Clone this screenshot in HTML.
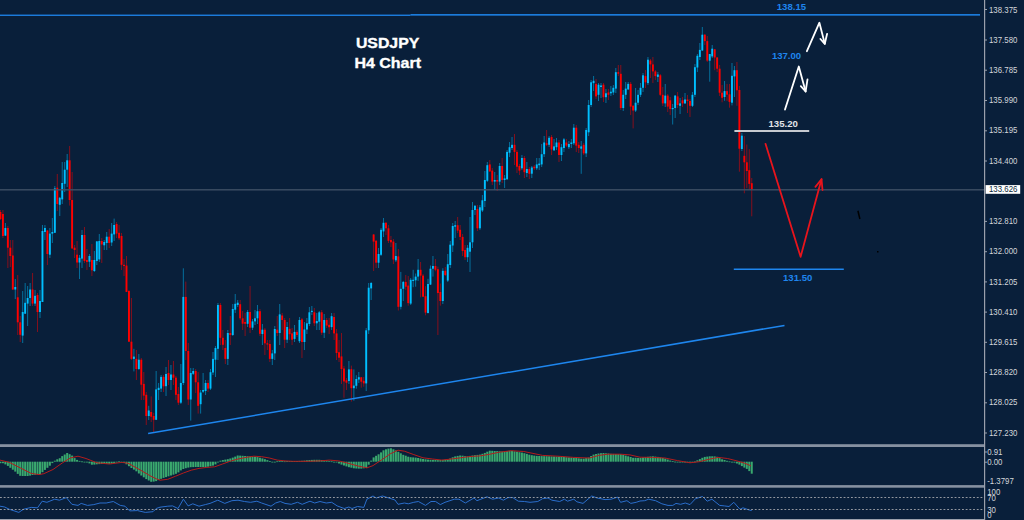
<!DOCTYPE html>
<html><head><meta charset="utf-8"><title>USDJPY H4 Chart</title>
<style>
html,body{margin:0;padding:0;background:#091f3a;width:1024px;height:520px;overflow:hidden;}
svg{display:block;position:absolute;left:0;top:0;}
text{font-family:"Liberation Sans",sans-serif;}
</style></head><body>
<svg width="1024" height="520" viewBox="0 0 1024 520">
<rect x="0" y="0" width="1024" height="520" fill="#091f3a"/>
<g opacity="0.5"><rect x="-0.05" y="210.0" width="1" height="10.0" fill="#ff0000"/><rect x="2.42" y="210.0" width="1" height="28.0" fill="#ff0000"/><rect x="4.89" y="223.0" width="1" height="13.0" fill="#00bfff"/><rect x="7.36" y="226.0" width="1" height="42.0" fill="#ff0000"/><rect x="9.83" y="240.0" width="1" height="27.0" fill="#ff0000"/><rect x="12.30" y="240.0" width="1" height="50.0" fill="#ff0000"/><rect x="14.77" y="279.0" width="1" height="20.0" fill="#00bfff"/><rect x="17.24" y="275.0" width="1" height="60.0" fill="#ff0000"/><rect x="19.72" y="316.0" width="1" height="26.0" fill="#ff0000"/><rect x="22.19" y="291.0" width="1" height="52.0" fill="#00bfff"/><rect x="24.66" y="283.0" width="1" height="31.0" fill="#00bfff"/><rect x="27.13" y="286.0" width="1" height="40.0" fill="#00bfff"/><rect x="29.60" y="283.0" width="1" height="23.0" fill="#00bfff"/><rect x="32.07" y="273.0" width="1" height="33.0" fill="#ff0000"/><rect x="34.54" y="290.0" width="1" height="16.0" fill="#00bfff"/><rect x="37.02" y="293.0" width="1" height="39.0" fill="#ff0000"/><rect x="39.49" y="290.0" width="1" height="28.0" fill="#00bfff"/><rect x="41.96" y="225.0" width="1" height="77.0" fill="#00bfff"/><rect x="44.43" y="225.0" width="1" height="15.0" fill="#00bfff"/><rect x="46.90" y="230.0" width="1" height="35.0" fill="#ff0000"/><rect x="49.37" y="228.0" width="1" height="30.0" fill="#00bfff"/><rect x="51.84" y="218.0" width="1" height="25.0" fill="#00bfff"/><rect x="54.32" y="186.0" width="1" height="47.0" fill="#00bfff"/><rect x="56.79" y="174.0" width="1" height="37.0" fill="#ff0000"/><rect x="59.26" y="197.0" width="1" height="19.0" fill="#00bfff"/><rect x="61.73" y="162.0" width="1" height="42.0" fill="#00bfff"/><rect x="64.20" y="162.0" width="1" height="30.0" fill="#00bfff"/><rect x="66.67" y="154.0" width="1" height="33.0" fill="#00bfff"/><rect x="69.14" y="146.0" width="1" height="59.6" fill="#ff0000"/><rect x="71.62" y="172.0" width="1" height="77.0" fill="#ff0000"/><rect x="74.09" y="245.0" width="1" height="13.0" fill="#ff0000"/><rect x="76.56" y="241.0" width="1" height="27.0" fill="#ff0000"/><rect x="79.03" y="255.0" width="1" height="24.0" fill="#00bfff"/><rect x="81.50" y="230.0" width="1" height="38.0" fill="#00bfff"/><rect x="83.97" y="227.0" width="1" height="36.0" fill="#ff0000"/><rect x="86.44" y="249.0" width="1" height="21.0" fill="#ff0000"/><rect x="88.92" y="254.0" width="1" height="13.0" fill="#00bfff"/><rect x="91.39" y="244.0" width="1" height="32.0" fill="#ff0000"/><rect x="93.86" y="251.0" width="1" height="21.0" fill="#00bfff"/><rect x="96.33" y="241.0" width="1" height="24.0" fill="#00bfff"/><rect x="98.80" y="234.0" width="1" height="28.0" fill="#00bfff"/><rect x="101.27" y="238.0" width="1" height="25.0" fill="#ff0000"/><rect x="103.74" y="240.0" width="1" height="10.0" fill="#00bfff"/><rect x="106.22" y="232.0" width="1" height="18.0" fill="#00bfff"/><rect x="108.69" y="229.0" width="1" height="19.0" fill="#ff0000"/><rect x="111.16" y="223.0" width="1" height="23.0" fill="#00bfff"/><rect x="113.63" y="218.6" width="1" height="22.4" fill="#00bfff"/><rect x="116.10" y="222.0" width="1" height="16.0" fill="#ff0000"/><rect x="118.57" y="225.0" width="1" height="15.0" fill="#ff0000"/><rect x="121.04" y="233.0" width="1" height="37.0" fill="#ff0000"/><rect x="123.52" y="259.0" width="1" height="17.0" fill="#ff0000"/><rect x="125.99" y="256.0" width="1" height="36.0" fill="#ff0000"/><rect x="128.46" y="290.0" width="1" height="52.0" fill="#ff0000"/><rect x="130.93" y="298.0" width="1" height="62.0" fill="#ff0000"/><rect x="133.40" y="348.8" width="1" height="22.6" fill="#00bfff"/><rect x="135.87" y="350.0" width="1" height="30.0" fill="#ff0000"/><rect x="138.34" y="354.0" width="1" height="16.0" fill="#00bfff"/><rect x="140.81" y="358.0" width="1" height="42.0" fill="#ff0000"/><rect x="143.29" y="372.0" width="1" height="28.0" fill="#ff0000"/><rect x="145.76" y="392.0" width="1" height="33.0" fill="#ff0000"/><rect x="148.23" y="405.8" width="1" height="14.2" fill="#00bfff"/><rect x="150.70" y="396.4" width="1" height="25.6" fill="#ff0000"/><rect x="153.17" y="412.8" width="1" height="19.5" fill="#ff0000"/><rect x="155.64" y="371.0" width="1" height="49.0" fill="#00bfff"/><rect x="158.11" y="383.0" width="1" height="17.0" fill="#00bfff"/><rect x="160.59" y="375.0" width="1" height="17.0" fill="#00bfff"/><rect x="163.06" y="375.0" width="1" height="17.0" fill="#ff0000"/><rect x="165.53" y="367.0" width="1" height="29.0" fill="#00bfff"/><rect x="168.00" y="360.0" width="1" height="25.0" fill="#ff0000"/><rect x="170.47" y="365.0" width="1" height="25.0" fill="#00bfff"/><rect x="172.94" y="361.0" width="1" height="24.0" fill="#ff0000"/><rect x="175.41" y="376.0" width="1" height="24.0" fill="#ff0000"/><rect x="177.89" y="387.0" width="1" height="18.0" fill="#ff0000"/><rect x="180.36" y="364.0" width="1" height="40.0" fill="#00bfff"/><rect x="182.83" y="268.3" width="1" height="116.7" fill="#00bfff"/><rect x="185.30" y="281.6" width="1" height="78.4" fill="#ff0000"/><rect x="187.77" y="343.0" width="1" height="62.0" fill="#ff0000"/><rect x="190.24" y="368.0" width="1" height="52.6" fill="#00bfff"/><rect x="192.71" y="368.0" width="1" height="7.0" fill="#00bfff"/><rect x="195.19" y="369.0" width="1" height="24.0" fill="#ff0000"/><rect x="197.66" y="372.0" width="1" height="41.6" fill="#ff0000"/><rect x="200.13" y="390.0" width="1" height="23.6" fill="#00bfff"/><rect x="202.60" y="373.0" width="1" height="20.0" fill="#00bfff"/><rect x="205.07" y="380.0" width="1" height="15.0" fill="#00bfff"/><rect x="207.54" y="380.0" width="1" height="12.0" fill="#ff0000"/><rect x="210.01" y="369.0" width="1" height="21.0" fill="#00bfff"/><rect x="212.49" y="352.0" width="1" height="23.0" fill="#00bfff"/><rect x="214.96" y="346.0" width="1" height="31.0" fill="#00bfff"/><rect x="217.43" y="303.0" width="1" height="57.0" fill="#00bfff"/><rect x="219.90" y="303.0" width="1" height="42.0" fill="#ff0000"/><rect x="222.37" y="330.0" width="1" height="20.0" fill="#ff0000"/><rect x="224.84" y="340.0" width="1" height="24.0" fill="#ff0000"/><rect x="227.31" y="330.0" width="1" height="35.0" fill="#00bfff"/><rect x="229.79" y="316.0" width="1" height="29.0" fill="#ff0000"/><rect x="232.26" y="304.0" width="1" height="32.0" fill="#00bfff"/><rect x="234.73" y="294.0" width="1" height="19.0" fill="#00bfff"/><rect x="237.20" y="300.0" width="1" height="7.0" fill="#00bfff"/><rect x="239.67" y="300.0" width="1" height="20.0" fill="#ff0000"/><rect x="242.14" y="311.0" width="1" height="19.0" fill="#ff0000"/><rect x="244.61" y="313.0" width="1" height="23.0" fill="#ff0000"/><rect x="247.09" y="310.0" width="1" height="17.0" fill="#00bfff"/><rect x="249.56" y="286.0" width="1" height="47.0" fill="#ff0000"/><rect x="252.03" y="319.0" width="1" height="11.0" fill="#00bfff"/><rect x="254.50" y="310.0" width="1" height="15.0" fill="#00bfff"/><rect x="256.97" y="305.0" width="1" height="19.0" fill="#00bfff"/><rect x="259.44" y="309.0" width="1" height="27.0" fill="#ff0000"/><rect x="261.91" y="324.0" width="1" height="21.0" fill="#00bfff"/><rect x="264.38" y="328.0" width="1" height="27.0" fill="#ff0000"/><rect x="266.86" y="340.0" width="1" height="10.0" fill="#ff0000"/><rect x="269.33" y="340.0" width="1" height="22.0" fill="#ff0000"/><rect x="271.80" y="350.0" width="1" height="15.0" fill="#00bfff"/><rect x="274.27" y="326.0" width="1" height="34.0" fill="#00bfff"/><rect x="276.74" y="316.0" width="1" height="20.0" fill="#ff0000"/><rect x="279.21" y="304.0" width="1" height="41.0" fill="#00bfff"/><rect x="281.68" y="313.0" width="1" height="17.0" fill="#ff0000"/><rect x="284.16" y="318.0" width="1" height="30.0" fill="#ff0000"/><rect x="286.63" y="322.0" width="1" height="21.0" fill="#00bfff"/><rect x="289.10" y="318.0" width="1" height="22.0" fill="#ff0000"/><rect x="291.57" y="328.0" width="1" height="17.0" fill="#ff0000"/><rect x="294.04" y="325.0" width="1" height="17.0" fill="#00bfff"/><rect x="296.51" y="330.0" width="1" height="7.0" fill="#ff0000"/><rect x="298.98" y="317.0" width="1" height="26.0" fill="#00bfff"/><rect x="301.46" y="318.0" width="1" height="40.0" fill="#ff0000"/><rect x="303.93" y="322.0" width="1" height="28.0" fill="#00bfff"/><rect x="306.40" y="318.0" width="1" height="16.0" fill="#00bfff"/><rect x="308.87" y="307.0" width="1" height="19.0" fill="#00bfff"/><rect x="311.34" y="306.0" width="1" height="9.0" fill="#00bfff"/><rect x="313.81" y="308.0" width="1" height="18.0" fill="#ff0000"/><rect x="316.28" y="313.0" width="1" height="17.0" fill="#00bfff"/><rect x="318.76" y="311.0" width="1" height="19.0" fill="#00bfff"/><rect x="321.23" y="310.0" width="1" height="25.0" fill="#ff0000"/><rect x="323.70" y="314.0" width="1" height="24.0" fill="#00bfff"/><rect x="326.17" y="318.0" width="1" height="10.0" fill="#ff0000"/><rect x="328.64" y="318.0" width="1" height="16.0" fill="#ff0000"/><rect x="331.11" y="313.0" width="1" height="17.0" fill="#00bfff"/><rect x="333.58" y="313.0" width="1" height="27.0" fill="#ff0000"/><rect x="336.06" y="329.0" width="1" height="31.0" fill="#ff0000"/><rect x="338.53" y="340.0" width="1" height="22.0" fill="#ff0000"/><rect x="341.00" y="333.0" width="1" height="51.0" fill="#ff0000"/><rect x="343.47" y="366.0" width="1" height="31.8" fill="#ff0000"/><rect x="345.94" y="378.0" width="1" height="12.0" fill="#ff0000"/><rect x="348.41" y="361.0" width="1" height="23.0" fill="#00bfff"/><rect x="350.88" y="365.6" width="1" height="36.0" fill="#ff0000"/><rect x="353.36" y="369.4" width="1" height="31.3" fill="#00bfff"/><rect x="355.83" y="375.2" width="1" height="13.5" fill="#00bfff"/><rect x="358.30" y="372.0" width="1" height="11.0" fill="#00bfff"/><rect x="360.77" y="377.0" width="1" height="10.7" fill="#ff0000"/><rect x="363.24" y="377.0" width="1" height="9.7" fill="#ff0000"/><rect x="365.71" y="328.0" width="1" height="63.0" fill="#00bfff"/><rect x="368.18" y="283.0" width="1" height="51.0" fill="#00bfff"/><rect x="370.65" y="282.0" width="1" height="18.0" fill="#00bfff"/><rect x="373.13" y="234.0" width="1" height="37.0" fill="#ff0000"/><rect x="375.60" y="240.0" width="1" height="28.0" fill="#ff0000"/><rect x="378.07" y="248.0" width="1" height="20.0" fill="#00bfff"/><rect x="380.54" y="228.0" width="1" height="28.0" fill="#00bfff"/><rect x="383.01" y="218.0" width="1" height="19.0" fill="#00bfff"/><rect x="385.48" y="222.0" width="1" height="13.0" fill="#ff0000"/><rect x="387.95" y="225.0" width="1" height="18.0" fill="#ff0000"/><rect x="390.43" y="236.0" width="1" height="11.0" fill="#ff0000"/><rect x="392.90" y="239.0" width="1" height="25.0" fill="#ff0000"/><rect x="395.37" y="243.0" width="1" height="19.0" fill="#00bfff"/><rect x="397.84" y="249.0" width="1" height="61.5" fill="#ff0000"/><rect x="400.31" y="271.9" width="1" height="37.5" fill="#00bfff"/><rect x="402.78" y="280.9" width="1" height="20.1" fill="#00bfff"/><rect x="405.25" y="275.0" width="1" height="14.9" fill="#ff0000"/><rect x="407.73" y="276.0" width="1" height="29.7" fill="#ff0000"/><rect x="410.20" y="278.0" width="1" height="27.0" fill="#00bfff"/><rect x="412.67" y="269.8" width="1" height="17.4" fill="#00bfff"/><rect x="415.14" y="273.5" width="1" height="13.2" fill="#00bfff"/><rect x="417.61" y="259.0" width="1" height="21.9" fill="#00bfff"/><rect x="420.08" y="262.0" width="1" height="35.3" fill="#ff0000"/><rect x="422.55" y="274.0" width="1" height="22.7" fill="#ff0000"/><rect x="425.03" y="286.2" width="1" height="29.1" fill="#ff0000"/><rect x="427.50" y="278.8" width="1" height="34.3" fill="#00bfff"/><rect x="429.97" y="265.5" width="1" height="19.5" fill="#00bfff"/><rect x="432.44" y="256.0" width="1" height="20.6" fill="#00bfff"/><rect x="434.91" y="259.0" width="1" height="12.3" fill="#ff0000"/><rect x="437.38" y="266.6" width="1" height="68.4" fill="#ff0000"/><rect x="439.85" y="283.5" width="1" height="22.2" fill="#ff0000"/><rect x="442.33" y="268.2" width="1" height="35.8" fill="#00bfff"/><rect x="444.80" y="267.0" width="1" height="9.0" fill="#ff0000"/><rect x="447.27" y="254.0" width="1" height="28.0" fill="#00bfff"/><rect x="449.74" y="241.0" width="1" height="27.0" fill="#00bfff"/><rect x="452.21" y="223.0" width="1" height="29.0" fill="#00bfff"/><rect x="454.68" y="221.0" width="1" height="17.0" fill="#00bfff"/><rect x="457.15" y="217.0" width="1" height="16.0" fill="#ff0000"/><rect x="459.63" y="225.0" width="1" height="15.0" fill="#ff0000"/><rect x="462.10" y="234.0" width="1" height="22.0" fill="#ff0000"/><rect x="464.57" y="245.0" width="1" height="15.0" fill="#ff0000"/><rect x="467.04" y="245.0" width="1" height="17.0" fill="#00bfff"/><rect x="469.51" y="217.0" width="1" height="55.0" fill="#00bfff"/><rect x="471.98" y="202.0" width="1" height="46.0" fill="#00bfff"/><rect x="474.45" y="205.0" width="1" height="10.0" fill="#00bfff"/><rect x="476.93" y="205.0" width="1" height="26.0" fill="#ff0000"/><rect x="479.40" y="205.0" width="1" height="25.0" fill="#00bfff"/><rect x="481.87" y="195.0" width="1" height="17.0" fill="#00bfff"/><rect x="484.34" y="171.0" width="1" height="36.0" fill="#00bfff"/><rect x="486.81" y="162.0" width="1" height="20.0" fill="#00bfff"/><rect x="489.28" y="160.0" width="1" height="12.0" fill="#ff0000"/><rect x="491.75" y="168.0" width="1" height="17.0" fill="#ff0000"/><rect x="494.23" y="172.0" width="1" height="18.0" fill="#00bfff"/><rect x="496.70" y="175.0" width="1" height="16.0" fill="#ff0000"/><rect x="499.17" y="163.0" width="1" height="22.0" fill="#00bfff"/><rect x="501.64" y="158.0" width="1" height="25.0" fill="#ff0000"/><rect x="504.11" y="175.0" width="1" height="13.0" fill="#00bfff"/><rect x="506.58" y="150.0" width="1" height="30.0" fill="#00bfff"/><rect x="509.05" y="142.0" width="1" height="15.0" fill="#00bfff"/><rect x="511.52" y="137.0" width="1" height="13.0" fill="#00bfff"/><rect x="514.00" y="134.0" width="1" height="31.0" fill="#ff0000"/><rect x="516.47" y="150.0" width="1" height="23.0" fill="#ff0000"/><rect x="518.94" y="164.0" width="1" height="11.0" fill="#ff0000"/><rect x="521.41" y="155.0" width="1" height="15.0" fill="#00bfff"/><rect x="523.88" y="156.0" width="1" height="22.0" fill="#ff0000"/><rect x="526.35" y="162.0" width="1" height="15.0" fill="#00bfff"/><rect x="528.82" y="167.0" width="1" height="12.0" fill="#ff0000"/><rect x="531.30" y="166.0" width="1" height="12.0" fill="#00bfff"/><rect x="533.77" y="165.0" width="1" height="5.0" fill="#ff0000"/><rect x="536.24" y="158.0" width="1" height="12.0" fill="#00bfff"/><rect x="538.71" y="158.0" width="1" height="12.0" fill="#00bfff"/><rect x="541.18" y="144.0" width="1" height="23.0" fill="#00bfff"/><rect x="543.65" y="136.0" width="1" height="21.0" fill="#00bfff"/><rect x="546.12" y="130.0" width="1" height="16.0" fill="#ff0000"/><rect x="548.60" y="136.0" width="1" height="11.0" fill="#00bfff"/><rect x="551.07" y="135.0" width="1" height="20.0" fill="#ff0000"/><rect x="553.54" y="139.0" width="1" height="12.0" fill="#00bfff"/><rect x="556.01" y="138.0" width="1" height="12.0" fill="#00bfff"/><rect x="558.48" y="140.0" width="1" height="22.0" fill="#ff0000"/><rect x="560.95" y="144.0" width="1" height="17.0" fill="#00bfff"/><rect x="563.42" y="138.0" width="1" height="14.0" fill="#00bfff"/><rect x="565.90" y="139.0" width="1" height="8.0" fill="#ff0000"/><rect x="568.37" y="141.0" width="1" height="8.0" fill="#00bfff"/><rect x="570.84" y="139.0" width="1" height="9.0" fill="#00bfff"/><rect x="573.31" y="124.0" width="1" height="21.0" fill="#00bfff"/><rect x="575.78" y="125.0" width="1" height="27.0" fill="#ff0000"/><rect x="578.25" y="142.0" width="1" height="11.0" fill="#ff0000"/><rect x="580.72" y="141.0" width="1" height="32.8" fill="#00bfff"/><rect x="583.20" y="143.0" width="1" height="12.0" fill="#ff0000"/><rect x="585.67" y="128.0" width="1" height="29.0" fill="#00bfff"/><rect x="588.14" y="100.0" width="1" height="36.0" fill="#00bfff"/><rect x="590.61" y="80.0" width="1" height="27.0" fill="#00bfff"/><rect x="593.08" y="76.0" width="1" height="15.0" fill="#00bfff"/><rect x="595.55" y="79.0" width="1" height="20.0" fill="#ff0000"/><rect x="598.02" y="83.0" width="1" height="18.0" fill="#00bfff"/><rect x="600.50" y="83.0" width="1" height="15.0" fill="#00bfff"/><rect x="602.97" y="83.0" width="1" height="19.0" fill="#ff0000"/><rect x="605.44" y="89.0" width="1" height="14.0" fill="#00bfff"/><rect x="607.91" y="89.0" width="1" height="11.0" fill="#ff0000"/><rect x="610.38" y="86.0" width="1" height="10.0" fill="#00bfff"/><rect x="612.85" y="85.0" width="1" height="10.0" fill="#00bfff"/><rect x="615.32" y="68.0" width="1" height="25.0" fill="#00bfff"/><rect x="617.80" y="65.0" width="1" height="11.0" fill="#ff0000"/><rect x="620.27" y="65.0" width="1" height="45.0" fill="#ff0000"/><rect x="622.74" y="90.0" width="1" height="21.0" fill="#00bfff"/><rect x="625.21" y="82.0" width="1" height="17.0" fill="#00bfff"/><rect x="627.68" y="82.0" width="1" height="8.0" fill="#00bfff"/><rect x="630.15" y="82.0" width="1" height="33.0" fill="#ff0000"/><rect x="632.62" y="105.0" width="1" height="23.4" fill="#ff0000"/><rect x="635.09" y="88.0" width="1" height="24.0" fill="#00bfff"/><rect x="637.57" y="90.0" width="1" height="15.0" fill="#00bfff"/><rect x="640.04" y="83.0" width="1" height="14.0" fill="#00bfff"/><rect x="642.51" y="73.0" width="1" height="19.0" fill="#00bfff"/><rect x="644.98" y="70.0" width="1" height="18.0" fill="#ff0000"/><rect x="647.45" y="57.0" width="1" height="28.0" fill="#00bfff"/><rect x="649.92" y="59.0" width="1" height="19.0" fill="#ff0000"/><rect x="652.39" y="57.0" width="1" height="26.0" fill="#ff0000"/><rect x="654.87" y="70.0" width="1" height="10.0" fill="#ff0000"/><rect x="657.34" y="72.0" width="1" height="10.0" fill="#00bfff"/><rect x="659.81" y="74.0" width="1" height="22.0" fill="#ff0000"/><rect x="662.28" y="87.0" width="1" height="19.0" fill="#ff0000"/><rect x="664.75" y="84.0" width="1" height="23.0" fill="#00bfff"/><rect x="667.22" y="94.0" width="1" height="18.0" fill="#ff0000"/><rect x="669.69" y="97.0" width="1" height="18.0" fill="#ff0000"/><rect x="672.17" y="104.0" width="1" height="20.5" fill="#00bfff"/><rect x="674.64" y="95.0" width="1" height="23.0" fill="#00bfff"/><rect x="677.11" y="92.0" width="1" height="16.0" fill="#ff0000"/><rect x="679.58" y="98.0" width="1" height="16.0" fill="#00bfff"/><rect x="682.05" y="97.0" width="1" height="10.0" fill="#ff0000"/><rect x="684.52" y="93.0" width="1" height="11.0" fill="#00bfff"/><rect x="686.99" y="95.0" width="1" height="18.0" fill="#ff0000"/><rect x="689.47" y="99.0" width="1" height="18.0" fill="#ff0000"/><rect x="691.94" y="92.0" width="1" height="15.0" fill="#00bfff"/><rect x="694.41" y="64.0" width="1" height="33.0" fill="#00bfff"/><rect x="696.88" y="54.0" width="1" height="18.0" fill="#00bfff"/><rect x="699.35" y="43.0" width="1" height="17.0" fill="#00bfff"/><rect x="701.82" y="27.0" width="1" height="24.0" fill="#00bfff"/><rect x="704.29" y="34.0" width="1" height="11.0" fill="#ff0000"/><rect x="706.77" y="36.0" width="1" height="26.0" fill="#ff0000"/><rect x="709.24" y="54.0" width="1" height="27.7" fill="#00bfff"/><rect x="711.71" y="45.0" width="1" height="13.0" fill="#00bfff"/><rect x="714.18" y="49.0" width="1" height="21.2" fill="#ff0000"/><rect x="716.65" y="57.0" width="1" height="15.0" fill="#ff0000"/><rect x="719.12" y="65.0" width="1" height="31.0" fill="#ff0000"/><rect x="721.59" y="85.0" width="1" height="17.3" fill="#ff0000"/><rect x="724.07" y="81.0" width="1" height="19.8" fill="#00bfff"/><rect x="726.54" y="84.0" width="1" height="17.0" fill="#ff0000"/><rect x="729.01" y="84.0" width="1" height="23.7" fill="#ff0000"/><rect x="731.48" y="63.0" width="1" height="42.4" fill="#00bfff"/><rect x="733.95" y="66.0" width="1" height="31.0" fill="#00bfff"/><rect x="736.42" y="62.0" width="1" height="43.8" fill="#ff0000"/><rect x="738.89" y="86.0" width="1" height="85.7" fill="#ff0000"/><rect x="741.37" y="132.9" width="1" height="18.1" fill="#00bfff"/><rect x="743.84" y="136.2" width="1" height="57.1" fill="#ff0000"/><rect x="746.31" y="144.5" width="1" height="43.7" fill="#ff0000"/><rect x="748.78" y="149.2" width="1" height="40.8" fill="#ff0000"/><rect x="751.25" y="178.0" width="1" height="38.3" fill="#ff0000"/></g>
<g><rect x="-0.50" y="212.0" width="1.9" height="7.0" fill="#ff0000"/><rect x="1.97" y="214.0" width="1.9" height="22.0" fill="#ff0000"/><rect x="4.44" y="228.0" width="1.9" height="7.6" fill="#00bfff"/><rect x="6.91" y="228.0" width="1.9" height="19.7" fill="#ff0000"/><rect x="9.38" y="247.7" width="1.9" height="8.3" fill="#ff0000"/><rect x="11.85" y="255.5" width="1.9" height="34.0" fill="#ff0000"/><rect x="14.32" y="287.0" width="1.9" height="2.5" fill="#00bfff"/><rect x="16.79" y="297.3" width="1.9" height="25.0" fill="#ff0000"/><rect x="19.27" y="322.3" width="1.9" height="12.5" fill="#ff0000"/><rect x="21.74" y="312.0" width="1.9" height="23.6" fill="#00bfff"/><rect x="24.21" y="302.8" width="1.9" height="10.9" fill="#00bfff"/><rect x="26.68" y="298.0" width="1.9" height="5.6" fill="#00bfff"/><rect x="29.15" y="289.5" width="1.9" height="8.5" fill="#00bfff"/><rect x="31.62" y="289.5" width="1.9" height="14.1" fill="#ff0000"/><rect x="34.09" y="295.8" width="1.9" height="7.8" fill="#00bfff"/><rect x="36.57" y="295.0" width="1.9" height="17.0" fill="#ff0000"/><rect x="39.04" y="301.0" width="1.9" height="11.0" fill="#00bfff"/><rect x="41.51" y="231.0" width="1.9" height="71.0" fill="#00bfff"/><rect x="43.98" y="228.0" width="1.9" height="4.0" fill="#00bfff"/><rect x="46.45" y="230.5" width="1.9" height="23.5" fill="#ff0000"/><rect x="48.92" y="233.6" width="1.9" height="21.1" fill="#00bfff"/><rect x="51.39" y="232.0" width="1.9" height="1.6" fill="#00bfff"/><rect x="53.87" y="188.4" width="1.9" height="44.4" fill="#00bfff"/><rect x="56.34" y="187.7" width="1.9" height="16.3" fill="#ff0000"/><rect x="58.81" y="197.8" width="1.9" height="7.0" fill="#00bfff"/><rect x="61.28" y="183.0" width="1.9" height="16.4" fill="#00bfff"/><rect x="63.75" y="169.7" width="1.9" height="14.1" fill="#00bfff"/><rect x="66.22" y="160.3" width="1.9" height="9.4" fill="#00bfff"/><rect x="68.69" y="160.3" width="1.9" height="39.7" fill="#ff0000"/><rect x="71.17" y="200.0" width="1.9" height="48.4" fill="#ff0000"/><rect x="73.64" y="247.7" width="1.9" height="2.3" fill="#ff0000"/><rect x="76.11" y="254.7" width="1.9" height="7.8" fill="#ff0000"/><rect x="78.58" y="257.8" width="1.9" height="4.7" fill="#00bfff"/><rect x="81.05" y="235.0" width="1.9" height="23.6" fill="#00bfff"/><rect x="83.52" y="235.0" width="1.9" height="26.0" fill="#ff0000"/><rect x="85.99" y="260.0" width="1.9" height="2.0" fill="#ff0000"/><rect x="88.47" y="256.0" width="1.9" height="5.7" fill="#00bfff"/><rect x="90.94" y="260.0" width="1.9" height="10.3" fill="#ff0000"/><rect x="93.41" y="260.0" width="1.9" height="11.0" fill="#00bfff"/><rect x="95.88" y="241.4" width="1.9" height="19.6" fill="#00bfff"/><rect x="98.35" y="241.0" width="1.9" height="18.4" fill="#00bfff"/><rect x="100.82" y="241.0" width="1.9" height="3.5" fill="#ff0000"/><rect x="103.29" y="242.0" width="1.9" height="3.3" fill="#00bfff"/><rect x="105.77" y="236.7" width="1.9" height="6.3" fill="#00bfff"/><rect x="108.24" y="236.7" width="1.9" height="6.3" fill="#ff0000"/><rect x="110.71" y="233.6" width="1.9" height="8.9" fill="#00bfff"/><rect x="113.18" y="225.0" width="1.9" height="9.4" fill="#00bfff"/><rect x="115.65" y="224.0" width="1.9" height="9.6" fill="#ff0000"/><rect x="118.12" y="232.8" width="1.9" height="5.5" fill="#ff0000"/><rect x="120.59" y="236.0" width="1.9" height="28.8" fill="#ff0000"/><rect x="123.06" y="264.8" width="1.9" height="1.2" fill="#ff0000"/><rect x="125.54" y="265.6" width="1.9" height="26.3" fill="#ff0000"/><rect x="128.01" y="291.0" width="1.9" height="50.7" fill="#ff0000"/><rect x="130.48" y="341.7" width="1.9" height="17.2" fill="#ff0000"/><rect x="132.95" y="356.6" width="1.9" height="2.3" fill="#00bfff"/><rect x="135.42" y="358.9" width="1.9" height="10.1" fill="#ff0000"/><rect x="137.89" y="359.7" width="1.9" height="9.3" fill="#00bfff"/><rect x="140.36" y="359.7" width="1.9" height="25.0" fill="#ff0000"/><rect x="142.84" y="383.9" width="1.9" height="11.7" fill="#ff0000"/><rect x="145.31" y="394.8" width="1.9" height="21.2" fill="#ff0000"/><rect x="147.78" y="410.5" width="1.9" height="5.5" fill="#00bfff"/><rect x="150.25" y="412.0" width="1.9" height="4.7" fill="#ff0000"/><rect x="152.72" y="416.0" width="1.9" height="3.8" fill="#ff0000"/><rect x="155.19" y="389.4" width="1.9" height="30.4" fill="#00bfff"/><rect x="157.66" y="387.8" width="1.9" height="2.2" fill="#00bfff"/><rect x="160.14" y="376.9" width="1.9" height="11.7" fill="#00bfff"/><rect x="162.61" y="376.9" width="1.9" height="9.4" fill="#ff0000"/><rect x="165.08" y="374.0" width="1.9" height="12.2" fill="#00bfff"/><rect x="167.55" y="373.0" width="1.9" height="7.0" fill="#ff0000"/><rect x="170.02" y="374.5" width="1.9" height="5.5" fill="#00bfff"/><rect x="172.49" y="374.5" width="1.9" height="3.2" fill="#ff0000"/><rect x="174.96" y="377.7" width="1.9" height="17.1" fill="#ff0000"/><rect x="177.44" y="394.0" width="1.9" height="8.7" fill="#ff0000"/><rect x="179.91" y="383.0" width="1.9" height="19.7" fill="#00bfff"/><rect x="182.38" y="296.9" width="1.9" height="86.1" fill="#00bfff"/><rect x="184.85" y="296.9" width="1.9" height="54.1" fill="#ff0000"/><rect x="187.32" y="351.0" width="1.9" height="48.5" fill="#ff0000"/><rect x="189.79" y="373.0" width="1.9" height="26.5" fill="#00bfff"/><rect x="192.26" y="371.0" width="1.9" height="2.8" fill="#00bfff"/><rect x="194.74" y="371.0" width="1.9" height="11.3" fill="#ff0000"/><rect x="197.21" y="382.3" width="1.9" height="23.5" fill="#ff0000"/><rect x="199.68" y="392.5" width="1.9" height="11.7" fill="#00bfff"/><rect x="202.15" y="390.0" width="1.9" height="1.7" fill="#00bfff"/><rect x="204.62" y="383.0" width="1.9" height="8.0" fill="#00bfff"/><rect x="207.09" y="383.0" width="1.9" height="5.6" fill="#ff0000"/><rect x="209.56" y="372.2" width="1.9" height="16.4" fill="#00bfff"/><rect x="212.04" y="358.9" width="1.9" height="13.6" fill="#00bfff"/><rect x="214.51" y="348.0" width="1.9" height="11.7" fill="#00bfff"/><rect x="216.98" y="305.0" width="1.9" height="43.8" fill="#00bfff"/><rect x="219.45" y="305.0" width="1.9" height="32.8" fill="#ff0000"/><rect x="221.92" y="337.8" width="1.9" height="7.0" fill="#ff0000"/><rect x="224.39" y="348.0" width="1.9" height="10.9" fill="#ff0000"/><rect x="226.86" y="333.0" width="1.9" height="25.9" fill="#00bfff"/><rect x="229.34" y="333.0" width="1.9" height="2.0" fill="#ff0000"/><rect x="231.81" y="309.0" width="1.9" height="26.0" fill="#00bfff"/><rect x="234.28" y="303.8" width="1.9" height="5.9" fill="#00bfff"/><rect x="236.75" y="302.7" width="1.9" height="2.3" fill="#00bfff"/><rect x="239.22" y="304.2" width="1.9" height="14.1" fill="#ff0000"/><rect x="241.69" y="318.3" width="1.9" height="5.4" fill="#ff0000"/><rect x="244.16" y="322.0" width="1.9" height="1.8" fill="#ff0000"/><rect x="246.64" y="312.0" width="1.9" height="11.8" fill="#00bfff"/><rect x="249.11" y="312.0" width="1.9" height="15.7" fill="#ff0000"/><rect x="251.58" y="321.4" width="1.9" height="6.3" fill="#00bfff"/><rect x="254.05" y="318.3" width="1.9" height="3.1" fill="#00bfff"/><rect x="256.52" y="311.2" width="1.9" height="7.1" fill="#00bfff"/><rect x="258.99" y="311.2" width="1.9" height="22.6" fill="#ff0000"/><rect x="261.46" y="329.7" width="1.9" height="4.3" fill="#00bfff"/><rect x="263.93" y="329.7" width="1.9" height="13.6" fill="#ff0000"/><rect x="266.41" y="343.3" width="1.9" height="1.2" fill="#ff0000"/><rect x="268.88" y="344.0" width="1.9" height="14.9" fill="#ff0000"/><rect x="271.35" y="353.4" width="1.9" height="5.5" fill="#00bfff"/><rect x="273.82" y="329.0" width="1.9" height="24.4" fill="#00bfff"/><rect x="276.29" y="329.7" width="1.9" height="3.3" fill="#ff0000"/><rect x="278.76" y="314.4" width="1.9" height="18.6" fill="#00bfff"/><rect x="281.23" y="315.5" width="1.9" height="4.5" fill="#ff0000"/><rect x="283.71" y="320.0" width="1.9" height="19.7" fill="#ff0000"/><rect x="286.18" y="327.0" width="1.9" height="12.7" fill="#00bfff"/><rect x="288.65" y="328.8" width="1.9" height="5.4" fill="#ff0000"/><rect x="291.12" y="333.4" width="1.9" height="6.3" fill="#ff0000"/><rect x="293.59" y="331.9" width="1.9" height="7.0" fill="#00bfff"/><rect x="296.06" y="331.9" width="1.9" height="3.1" fill="#ff0000"/><rect x="298.53" y="320.0" width="1.9" height="21.2" fill="#00bfff"/><rect x="301.01" y="319.4" width="1.9" height="22.6" fill="#ff0000"/><rect x="303.48" y="329.5" width="1.9" height="12.5" fill="#00bfff"/><rect x="305.95" y="323.3" width="1.9" height="6.2" fill="#00bfff"/><rect x="308.42" y="312.3" width="1.9" height="11.7" fill="#00bfff"/><rect x="310.89" y="310.8" width="1.9" height="1.2" fill="#00bfff"/><rect x="313.36" y="312.3" width="1.9" height="11.0" fill="#ff0000"/><rect x="315.83" y="321.0" width="1.9" height="2.3" fill="#00bfff"/><rect x="318.31" y="312.3" width="1.9" height="9.4" fill="#00bfff"/><rect x="320.78" y="312.3" width="1.9" height="20.4" fill="#ff0000"/><rect x="323.25" y="320.0" width="1.9" height="12.7" fill="#00bfff"/><rect x="325.72" y="320.0" width="1.9" height="5.6" fill="#ff0000"/><rect x="328.19" y="324.8" width="1.9" height="2.4" fill="#ff0000"/><rect x="330.66" y="316.2" width="1.9" height="10.9" fill="#00bfff"/><rect x="333.13" y="317.0" width="1.9" height="16.4" fill="#ff0000"/><rect x="335.61" y="333.4" width="1.9" height="19.6" fill="#ff0000"/><rect x="338.08" y="352.2" width="1.9" height="5.5" fill="#ff0000"/><rect x="340.55" y="356.4" width="1.9" height="12.6" fill="#ff0000"/><rect x="343.02" y="368.5" width="1.9" height="12.9" fill="#ff0000"/><rect x="345.49" y="380.3" width="1.9" height="2.4" fill="#ff0000"/><rect x="347.96" y="369.4" width="1.9" height="11.6" fill="#00bfff"/><rect x="350.43" y="369.2" width="1.9" height="19.0" fill="#ff0000"/><rect x="352.91" y="385.6" width="1.9" height="2.6" fill="#00bfff"/><rect x="355.38" y="379.0" width="1.9" height="6.8" fill="#00bfff"/><rect x="357.85" y="377.2" width="1.9" height="2.3" fill="#00bfff"/><rect x="360.32" y="377.3" width="1.9" height="4.4" fill="#ff0000"/><rect x="362.79" y="380.8" width="1.9" height="2.6" fill="#ff0000"/><rect x="365.26" y="330.3" width="1.9" height="53.1" fill="#00bfff"/><rect x="367.73" y="287.7" width="1.9" height="42.6" fill="#00bfff"/><rect x="370.20" y="283.0" width="1.9" height="5.4" fill="#00bfff"/><rect x="372.68" y="234.5" width="1.9" height="7.1" fill="#ff0000"/><rect x="375.15" y="240.8" width="1.9" height="21.9" fill="#ff0000"/><rect x="377.62" y="254.0" width="1.9" height="8.7" fill="#00bfff"/><rect x="380.09" y="229.8" width="1.9" height="25.0" fill="#00bfff"/><rect x="382.56" y="222.8" width="1.9" height="8.6" fill="#00bfff"/><rect x="385.03" y="222.8" width="1.9" height="5.5" fill="#ff0000"/><rect x="387.50" y="228.3" width="1.9" height="12.5" fill="#ff0000"/><rect x="389.98" y="240.0" width="1.9" height="2.3" fill="#ff0000"/><rect x="392.45" y="241.6" width="1.9" height="17.9" fill="#ff0000"/><rect x="394.92" y="256.0" width="1.9" height="4.3" fill="#00bfff"/><rect x="397.39" y="256.4" width="1.9" height="50.4" fill="#ff0000"/><rect x="399.86" y="288.8" width="1.9" height="18.0" fill="#00bfff"/><rect x="402.33" y="281.9" width="1.9" height="6.9" fill="#00bfff"/><rect x="404.80" y="281.9" width="1.9" height="4.8" fill="#ff0000"/><rect x="407.28" y="285.6" width="1.9" height="17.5" fill="#ff0000"/><rect x="409.75" y="279.8" width="1.9" height="23.8" fill="#00bfff"/><rect x="412.22" y="279.8" width="1.9" height="1.2" fill="#00bfff"/><rect x="414.69" y="276.6" width="1.9" height="3.7" fill="#00bfff"/><rect x="417.16" y="269.8" width="1.9" height="6.8" fill="#00bfff"/><rect x="419.63" y="269.8" width="1.9" height="5.8" fill="#ff0000"/><rect x="422.10" y="275.6" width="1.9" height="21.1" fill="#ff0000"/><rect x="424.58" y="296.2" width="1.9" height="16.4" fill="#ff0000"/><rect x="427.05" y="284.0" width="1.9" height="29.1" fill="#00bfff"/><rect x="429.52" y="268.7" width="1.9" height="15.9" fill="#00bfff"/><rect x="431.99" y="266.0" width="1.9" height="2.7" fill="#00bfff"/><rect x="434.46" y="266.0" width="1.9" height="3.8" fill="#ff0000"/><rect x="436.93" y="269.2" width="1.9" height="23.8" fill="#ff0000"/><rect x="439.40" y="292.0" width="1.9" height="9.0" fill="#ff0000"/><rect x="441.88" y="270.8" width="1.9" height="30.2" fill="#00bfff"/><rect x="444.35" y="270.8" width="1.9" height="4.2" fill="#ff0000"/><rect x="446.82" y="264.2" width="1.9" height="16.4" fill="#00bfff"/><rect x="449.29" y="244.7" width="1.9" height="20.3" fill="#00bfff"/><rect x="451.76" y="226.0" width="1.9" height="19.5" fill="#00bfff"/><rect x="454.23" y="225.2" width="1.9" height="1.5" fill="#00bfff"/><rect x="456.70" y="225.2" width="1.9" height="5.4" fill="#ff0000"/><rect x="459.18" y="229.8" width="1.9" height="7.1" fill="#ff0000"/><rect x="461.65" y="236.9" width="1.9" height="14.1" fill="#ff0000"/><rect x="464.12" y="250.0" width="1.9" height="7.2" fill="#ff0000"/><rect x="466.59" y="247.8" width="1.9" height="9.4" fill="#00bfff"/><rect x="469.06" y="242.3" width="1.9" height="9.4" fill="#00bfff"/><rect x="471.53" y="210.0" width="1.9" height="32.3" fill="#00bfff"/><rect x="474.00" y="205.8" width="1.9" height="4.2" fill="#00bfff"/><rect x="476.48" y="209.0" width="1.9" height="19.3" fill="#ff0000"/><rect x="478.95" y="207.3" width="1.9" height="21.0" fill="#00bfff"/><rect x="481.42" y="200.3" width="1.9" height="10.2" fill="#00bfff"/><rect x="483.89" y="180.0" width="1.9" height="21.0" fill="#00bfff"/><rect x="486.36" y="165.2" width="1.9" height="15.6" fill="#00bfff"/><rect x="488.83" y="164.4" width="1.9" height="7.0" fill="#ff0000"/><rect x="491.30" y="170.6" width="1.9" height="11.0" fill="#ff0000"/><rect x="493.78" y="180.0" width="1.9" height="1.6" fill="#00bfff"/><rect x="496.25" y="180.0" width="1.9" height="1.6" fill="#ff0000"/><rect x="498.72" y="166.0" width="1.9" height="15.6" fill="#00bfff"/><rect x="501.19" y="166.0" width="1.9" height="14.0" fill="#ff0000"/><rect x="503.66" y="178.4" width="1.9" height="1.6" fill="#00bfff"/><rect x="506.13" y="151.9" width="1.9" height="27.3" fill="#00bfff"/><rect x="508.60" y="147.2" width="1.9" height="5.5" fill="#00bfff"/><rect x="511.07" y="144.8" width="1.9" height="3.2" fill="#00bfff"/><rect x="513.55" y="144.8" width="1.9" height="7.1" fill="#ff0000"/><rect x="516.02" y="151.9" width="1.9" height="14.8" fill="#ff0000"/><rect x="518.49" y="166.0" width="1.9" height="4.6" fill="#ff0000"/><rect x="520.96" y="158.0" width="1.9" height="10.3" fill="#00bfff"/><rect x="523.43" y="158.0" width="1.9" height="14.2" fill="#ff0000"/><rect x="525.90" y="169.0" width="1.9" height="4.0" fill="#00bfff"/><rect x="528.37" y="169.0" width="1.9" height="4.8" fill="#ff0000"/><rect x="530.85" y="167.5" width="1.9" height="6.2" fill="#00bfff"/><rect x="533.32" y="166.7" width="1.9" height="1.6" fill="#ff0000"/><rect x="535.79" y="164.4" width="1.9" height="3.9" fill="#00bfff"/><rect x="538.26" y="163.6" width="1.9" height="1.6" fill="#00bfff"/><rect x="540.73" y="154.2" width="1.9" height="10.2" fill="#00bfff"/><rect x="543.20" y="142.5" width="1.9" height="11.7" fill="#00bfff"/><rect x="545.67" y="143.3" width="1.9" height="1.5" fill="#ff0000"/><rect x="548.15" y="137.8" width="1.9" height="7.0" fill="#00bfff"/><rect x="550.62" y="137.0" width="1.9" height="12.5" fill="#ff0000"/><rect x="553.09" y="146.4" width="1.9" height="3.9" fill="#00bfff"/><rect x="555.56" y="142.5" width="1.9" height="4.7" fill="#00bfff"/><rect x="558.03" y="142.5" width="1.9" height="12.5" fill="#ff0000"/><rect x="560.50" y="147.2" width="1.9" height="7.8" fill="#00bfff"/><rect x="562.97" y="139.4" width="1.9" height="8.6" fill="#00bfff"/><rect x="565.45" y="142.5" width="1.9" height="3.1" fill="#ff0000"/><rect x="567.92" y="144.0" width="1.9" height="3.2" fill="#00bfff"/><rect x="570.39" y="142.5" width="1.9" height="1.5" fill="#00bfff"/><rect x="572.86" y="127.7" width="1.9" height="15.6" fill="#00bfff"/><rect x="575.33" y="127.7" width="1.9" height="17.9" fill="#ff0000"/><rect x="577.80" y="144.8" width="1.9" height="3.2" fill="#ff0000"/><rect x="580.27" y="146.4" width="1.9" height="2.3" fill="#00bfff"/><rect x="582.75" y="144.8" width="1.9" height="8.6" fill="#ff0000"/><rect x="585.22" y="130.0" width="1.9" height="23.4" fill="#00bfff"/><rect x="587.69" y="105.0" width="1.9" height="27.3" fill="#00bfff"/><rect x="590.16" y="82.3" width="1.9" height="22.7" fill="#00bfff"/><rect x="592.63" y="80.8" width="1.9" height="2.3" fill="#00bfff"/><rect x="595.10" y="83.9" width="1.9" height="12.5" fill="#ff0000"/><rect x="597.57" y="84.7" width="1.9" height="10.1" fill="#00bfff"/><rect x="600.05" y="85.5" width="1.9" height="1.5" fill="#00bfff"/><rect x="602.52" y="84.7" width="1.9" height="12.5" fill="#ff0000"/><rect x="604.99" y="93.3" width="1.9" height="3.9" fill="#00bfff"/><rect x="607.46" y="92.5" width="1.9" height="2.3" fill="#ff0000"/><rect x="609.93" y="91.7" width="1.9" height="1.6" fill="#00bfff"/><rect x="612.40" y="87.8" width="1.9" height="4.7" fill="#00bfff"/><rect x="614.87" y="72.2" width="1.9" height="16.4" fill="#00bfff"/><rect x="617.35" y="72.2" width="1.9" height="1.5" fill="#ff0000"/><rect x="619.82" y="73.8" width="1.9" height="34.2" fill="#ff0000"/><rect x="622.29" y="94.8" width="1.9" height="13.2" fill="#00bfff"/><rect x="624.76" y="88.6" width="1.9" height="6.2" fill="#00bfff"/><rect x="627.23" y="83.9" width="1.9" height="5.5" fill="#00bfff"/><rect x="629.70" y="83.9" width="1.9" height="22.7" fill="#ff0000"/><rect x="632.17" y="105.8" width="1.9" height="4.7" fill="#ff0000"/><rect x="634.64" y="102.7" width="1.9" height="7.8" fill="#00bfff"/><rect x="637.12" y="94.8" width="1.9" height="7.9" fill="#00bfff"/><rect x="639.59" y="87.8" width="1.9" height="7.0" fill="#00bfff"/><rect x="642.06" y="75.3" width="1.9" height="12.5" fill="#00bfff"/><rect x="644.53" y="76.1" width="1.9" height="6.2" fill="#ff0000"/><rect x="647.00" y="59.7" width="1.9" height="23.4" fill="#00bfff"/><rect x="649.47" y="60.5" width="1.9" height="3.9" fill="#ff0000"/><rect x="651.94" y="64.4" width="1.9" height="7.0" fill="#ff0000"/><rect x="654.42" y="71.4" width="1.9" height="4.7" fill="#ff0000"/><rect x="656.89" y="74.5" width="1.9" height="2.4" fill="#00bfff"/><rect x="659.36" y="75.3" width="1.9" height="19.5" fill="#ff0000"/><rect x="661.83" y="94.8" width="1.9" height="8.6" fill="#ff0000"/><rect x="664.30" y="95.6" width="1.9" height="7.8" fill="#00bfff"/><rect x="666.77" y="95.6" width="1.9" height="11.0" fill="#ff0000"/><rect x="669.24" y="100.3" width="1.9" height="8.6" fill="#ff0000"/><rect x="671.72" y="108.0" width="1.9" height="1.2" fill="#00bfff"/><rect x="674.19" y="95.6" width="1.9" height="12.4" fill="#00bfff"/><rect x="676.66" y="96.4" width="1.9" height="8.6" fill="#ff0000"/><rect x="679.13" y="103.4" width="1.9" height="2.4" fill="#00bfff"/><rect x="681.60" y="100.3" width="1.9" height="3.1" fill="#ff0000"/><rect x="684.07" y="99.5" width="1.9" height="3.9" fill="#00bfff"/><rect x="686.54" y="99.5" width="1.9" height="1.5" fill="#ff0000"/><rect x="689.02" y="101.0" width="1.9" height="4.8" fill="#ff0000"/><rect x="691.49" y="94.8" width="1.9" height="11.0" fill="#00bfff"/><rect x="693.96" y="67.2" width="1.9" height="27.6" fill="#00bfff"/><rect x="696.43" y="55.8" width="1.9" height="11.7" fill="#00bfff"/><rect x="698.90" y="49.9" width="1.9" height="7.1" fill="#00bfff"/><rect x="701.37" y="34.7" width="1.9" height="15.8" fill="#00bfff"/><rect x="703.84" y="34.7" width="1.9" height="6.4" fill="#ff0000"/><rect x="706.32" y="41.1" width="1.9" height="19.5" fill="#ff0000"/><rect x="708.79" y="54.0" width="1.9" height="6.7" fill="#00bfff"/><rect x="711.26" y="48.7" width="1.9" height="7.7" fill="#00bfff"/><rect x="713.73" y="49.3" width="1.9" height="8.2" fill="#ff0000"/><rect x="716.20" y="57.5" width="1.9" height="11.2" fill="#ff0000"/><rect x="718.67" y="68.7" width="1.9" height="24.0" fill="#ff0000"/><rect x="721.14" y="92.7" width="1.9" height="5.1" fill="#ff0000"/><rect x="723.62" y="91.1" width="1.9" height="5.9" fill="#00bfff"/><rect x="726.09" y="91.1" width="1.9" height="3.6" fill="#ff0000"/><rect x="728.56" y="94.3" width="1.9" height="7.6" fill="#ff0000"/><rect x="731.03" y="75.8" width="1.9" height="26.9" fill="#00bfff"/><rect x="733.50" y="70.2" width="1.9" height="6.2" fill="#00bfff"/><rect x="735.97" y="70.2" width="1.9" height="20.1" fill="#ff0000"/><rect x="738.44" y="90.0" width="1.9" height="58.7" fill="#ff0000"/><rect x="740.91" y="135.7" width="1.9" height="13.3" fill="#00bfff"/><rect x="743.39" y="155.8" width="1.9" height="6.5" fill="#ff0000"/><rect x="745.86" y="162.3" width="1.9" height="8.7" fill="#ff0000"/><rect x="748.33" y="170.2" width="1.9" height="13.7" fill="#ff0000"/><rect x="750.80" y="183.2" width="1.9" height="6.5" fill="#ff0000"/></g>
<!-- current price line -->
<rect x="0" y="189.1" width="984" height="1.4" fill="#3e4e64"/>
<!-- 138.15 line -->
<rect x="0" y="14.6" width="410.5" height="1.3" fill="#1e86ee"/>
<rect x="410.5" y="14.1" width="569.5" height="1.5" fill="#1e86ee"/>
<text x="776.8" y="10.1" font-size="9.4" font-weight="bold" fill="#1f85ee" textLength="29.3" lengthAdjust="spacingAndGlyphs">138.15</text>
<!-- trendline -->
<line x1="148.1" y1="433.6" x2="784.5" y2="325.4" stroke="#1e86ee" stroke-width="1.5"/>
<!-- 135.20 line -->
<rect x="734.4" y="130" width="74.8" height="2" fill="#c6cad0"/>
<text x="768.5" y="126.8" font-size="9.4" font-weight="bold" fill="#e2e4e8" textLength="29.4" lengthAdjust="spacingAndGlyphs">135.20</text>
<!-- 131.50 line -->
<rect x="733.8" y="268.5" width="110" height="1.5" fill="#1e86ee"/>
<text x="783" y="280.8" font-size="9.4" font-weight="bold" fill="#1f85ee" textLength="29.3" lengthAdjust="spacingAndGlyphs">131.50</text>
<text x="771.9" y="59.2" font-size="9.4" font-weight="bold" fill="#1f85ee" textLength="29.3" lengthAdjust="spacingAndGlyphs">137.00</text>
<!-- title -->
<text x="355.9" y="47.6" font-size="14.8" font-weight="bold" fill="#ffffff" stroke="#ffffff" stroke-width="0.35" textLength="63.4" lengthAdjust="spacingAndGlyphs">USDJPY</text>
<text x="354.4" y="67.9" font-size="14.8" font-weight="bold" fill="#ffffff" stroke="#ffffff" stroke-width="0.35" textLength="66.6" lengthAdjust="spacingAndGlyphs">H4 Chart</text>
<!-- white arrows -->
<g fill="none" stroke="#ffffff" stroke-width="1.8" stroke-linecap="round" stroke-linejoin="round">
<polyline points="806.9,51.2 819.4,22.7 824.8,43.8"/>
<polyline points="820.4,39 824.8,43.8 827.1,33.8"/>
<polyline points="785,109.6 798.8,66.5 805.6,91.5"/>
<polyline points="800.8,86.2 805.6,91.5 807.5,79.4"/>
</g>
<!-- red arrow -->
<g fill="none" stroke="#e8141c" stroke-width="1.8" stroke-linecap="round" stroke-linejoin="round">
<polyline points="765.5,143.8 800.6,256.8 821.5,179.2"/>
<polyline points="815.4,186.9 821.5,179.2 822.5,190"/>
</g>
<!-- small marks -->
<line x1="857.9" y1="210.8" x2="859.9" y2="219" stroke="#000000" stroke-width="1.5"/>
<rect x="877" y="251" width="1.5" height="1.5" fill="#000000"/>
<!-- separators -->
<rect x="0" y="444.2" width="985" height="2.8" fill="#8690a0"/>
<rect x="0" y="485.1" width="985" height="2.6" fill="#8690a0"/>
<rect x="0" y="519" width="985" height="1" fill="#9aa0ac"/>
<g fill="#3aa86e"><rect x="-0.55" y="461.7" width="2.0" height="1.5"/><rect x="1.92" y="461.7" width="2.0" height="1.5"/><rect x="4.39" y="461.7" width="2.0" height="2.7"/><rect x="6.86" y="461.7" width="2.0" height="4.2"/><rect x="9.33" y="461.7" width="2.0" height="6.1"/><rect x="11.80" y="461.7" width="2.0" height="8.0"/><rect x="14.27" y="461.7" width="2.0" height="9.9"/><rect x="16.74" y="461.7" width="2.0" height="12.2"/><rect x="19.22" y="461.7" width="2.0" height="14.1"/><rect x="21.69" y="461.7" width="2.0" height="14.3"/><rect x="24.16" y="461.7" width="2.0" height="14.3"/><rect x="26.63" y="461.7" width="2.0" height="14.3"/><rect x="29.10" y="461.7" width="2.0" height="13.9"/><rect x="31.57" y="461.7" width="2.0" height="13.3"/><rect x="34.04" y="461.7" width="2.0" height="13.0"/><rect x="36.52" y="461.7" width="2.0" height="12.7"/><rect x="38.99" y="461.7" width="2.0" height="12.4"/><rect x="41.46" y="461.7" width="2.0" height="10.5"/><rect x="43.93" y="461.7" width="2.0" height="8.2"/><rect x="46.40" y="461.7" width="2.0" height="6.1"/><rect x="48.87" y="461.7" width="2.0" height="4.0"/><rect x="51.34" y="461.7" width="2.0" height="1.4"/><rect x="53.82" y="460.7" width="2.0" height="1.0"/><rect x="56.29" y="459.3" width="2.0" height="2.4"/><rect x="58.76" y="458.2" width="2.0" height="3.5"/><rect x="61.23" y="456.1" width="2.0" height="5.6"/><rect x="63.70" y="454.5" width="2.0" height="7.2"/><rect x="66.17" y="453.0" width="2.0" height="8.7"/><rect x="68.64" y="454.2" width="2.0" height="7.5"/><rect x="71.12" y="455.6" width="2.0" height="6.1"/><rect x="73.59" y="458.1" width="2.0" height="3.6"/><rect x="76.06" y="459.9" width="2.0" height="1.8"/><rect x="78.53" y="460.9" width="2.0" height="0.8"/><rect x="81.00" y="461.4" width="2.0" height="0.8"/><rect x="83.47" y="461.7" width="2.0" height="0.8"/><rect x="85.94" y="461.7" width="2.0" height="0.8"/><rect x="88.42" y="461.7" width="2.0" height="1.7"/><rect x="90.89" y="461.7" width="2.0" height="3.0"/><rect x="93.36" y="461.7" width="2.0" height="2.9"/><rect x="95.83" y="461.7" width="2.0" height="2.6"/><rect x="98.30" y="461.7" width="2.0" height="2.4"/><rect x="100.77" y="461.7" width="2.0" height="2.3"/><rect x="103.24" y="461.7" width="2.0" height="2.2"/><rect x="105.72" y="461.7" width="2.0" height="2.1"/><rect x="108.19" y="461.7" width="2.0" height="2.1"/><rect x="110.66" y="461.7" width="2.0" height="2.0"/><rect x="113.13" y="461.7" width="2.0" height="1.4"/><rect x="115.60" y="461.7" width="2.0" height="0.8"/><rect x="118.07" y="461.4" width="2.0" height="0.8"/><rect x="120.54" y="461.7" width="2.0" height="0.8"/><rect x="123.02" y="461.7" width="2.0" height="1.2"/><rect x="125.49" y="461.7" width="2.0" height="2.6"/><rect x="127.96" y="461.7" width="2.0" height="4.5"/><rect x="130.43" y="461.7" width="2.0" height="6.3"/><rect x="132.90" y="461.7" width="2.0" height="7.9"/><rect x="135.37" y="461.7" width="2.0" height="9.6"/><rect x="137.84" y="461.7" width="2.0" height="11.8"/><rect x="140.31" y="461.7" width="2.0" height="13.8"/><rect x="142.79" y="461.7" width="2.0" height="15.6"/><rect x="145.26" y="461.7" width="2.0" height="17.4"/><rect x="147.73" y="461.7" width="2.0" height="18.8"/><rect x="150.20" y="461.7" width="2.0" height="20.1"/><rect x="152.67" y="461.7" width="2.0" height="19.9"/><rect x="155.14" y="461.7" width="2.0" height="19.4"/><rect x="157.61" y="461.7" width="2.0" height="18.2"/><rect x="160.09" y="461.7" width="2.0" height="17.1"/><rect x="162.56" y="461.7" width="2.0" height="16.2"/><rect x="165.03" y="461.7" width="2.0" height="15.4"/><rect x="167.50" y="461.7" width="2.0" height="14.6"/><rect x="169.97" y="461.7" width="2.0" height="13.8"/><rect x="172.44" y="461.7" width="2.0" height="13.0"/><rect x="174.91" y="461.7" width="2.0" height="12.1"/><rect x="177.39" y="461.7" width="2.0" height="10.7"/><rect x="179.86" y="461.7" width="2.0" height="8.7"/><rect x="182.33" y="461.7" width="2.0" height="7.3"/><rect x="184.80" y="461.7" width="2.0" height="6.5"/><rect x="187.27" y="461.7" width="2.0" height="5.9"/><rect x="189.74" y="461.7" width="2.0" height="5.5"/><rect x="192.21" y="461.7" width="2.0" height="5.4"/><rect x="194.69" y="461.7" width="2.0" height="5.3"/><rect x="197.16" y="461.7" width="2.0" height="5.3"/><rect x="199.63" y="461.7" width="2.0" height="5.3"/><rect x="202.10" y="461.7" width="2.0" height="5.3"/><rect x="204.57" y="461.7" width="2.0" height="5.3"/><rect x="207.04" y="461.7" width="2.0" height="5.0"/><rect x="209.51" y="461.7" width="2.0" height="4.5"/><rect x="211.99" y="461.7" width="2.0" height="3.9"/><rect x="214.46" y="461.7" width="2.0" height="2.7"/><rect x="216.93" y="461.7" width="2.0" height="0.8"/><rect x="219.40" y="460.7" width="2.0" height="1.0"/><rect x="221.87" y="460.1" width="2.0" height="1.6"/><rect x="224.34" y="459.6" width="2.0" height="2.1"/><rect x="226.81" y="459.2" width="2.0" height="2.5"/><rect x="229.29" y="458.5" width="2.0" height="3.2"/><rect x="231.76" y="457.6" width="2.0" height="4.1"/><rect x="234.23" y="456.6" width="2.0" height="5.1"/><rect x="236.70" y="455.5" width="2.0" height="6.2"/><rect x="239.17" y="455.6" width="2.0" height="6.1"/><rect x="241.64" y="455.8" width="2.0" height="5.9"/><rect x="244.11" y="456.0" width="2.0" height="5.7"/><rect x="246.59" y="456.2" width="2.0" height="5.5"/><rect x="249.06" y="456.4" width="2.0" height="5.3"/><rect x="251.53" y="456.7" width="2.0" height="5.0"/><rect x="254.00" y="456.8" width="2.0" height="4.9"/><rect x="256.47" y="457.1" width="2.0" height="4.6"/><rect x="258.94" y="457.7" width="2.0" height="4.0"/><rect x="261.41" y="458.4" width="2.0" height="3.3"/><rect x="263.88" y="459.2" width="2.0" height="2.5"/><rect x="266.36" y="460.1" width="2.0" height="1.6"/><rect x="268.83" y="461.1" width="2.0" height="0.8"/><rect x="271.30" y="461.7" width="2.0" height="0.8"/><rect x="273.77" y="461.7" width="2.0" height="0.8"/><rect x="276.24" y="461.3" width="2.0" height="0.8"/><rect x="278.71" y="461.0" width="2.0" height="0.8"/><rect x="281.18" y="461.1" width="2.0" height="0.8"/><rect x="283.66" y="461.3" width="2.0" height="0.8"/><rect x="286.13" y="461.2" width="2.0" height="0.8"/><rect x="288.60" y="461.2" width="2.0" height="0.8"/><rect x="291.07" y="461.1" width="2.0" height="0.8"/><rect x="293.54" y="461.1" width="2.0" height="0.8"/><rect x="296.01" y="461.0" width="2.0" height="0.8"/><rect x="298.48" y="460.9" width="2.0" height="0.8"/><rect x="300.96" y="460.8" width="2.0" height="0.9"/><rect x="303.43" y="460.6" width="2.0" height="1.1"/><rect x="305.90" y="460.3" width="2.0" height="1.4"/><rect x="308.37" y="460.1" width="2.0" height="1.6"/><rect x="310.84" y="459.9" width="2.0" height="1.8"/><rect x="313.31" y="459.8" width="2.0" height="1.9"/><rect x="315.78" y="459.8" width="2.0" height="1.9"/><rect x="318.26" y="459.8" width="2.0" height="1.9"/><rect x="320.73" y="460.0" width="2.0" height="1.7"/><rect x="323.20" y="460.3" width="2.0" height="1.4"/><rect x="325.67" y="460.6" width="2.0" height="1.1"/><rect x="328.14" y="460.9" width="2.0" height="0.8"/><rect x="330.61" y="461.3" width="2.0" height="0.8"/><rect x="333.08" y="461.7" width="2.0" height="0.8"/><rect x="335.56" y="461.7" width="2.0" height="0.8"/><rect x="338.03" y="461.7" width="2.0" height="1.8"/><rect x="340.50" y="461.7" width="2.0" height="2.9"/><rect x="342.97" y="461.7" width="2.0" height="3.8"/><rect x="345.44" y="461.7" width="2.0" height="4.7"/><rect x="347.91" y="461.7" width="2.0" height="5.5"/><rect x="350.38" y="461.7" width="2.0" height="6.0"/><rect x="352.86" y="461.7" width="2.0" height="6.6"/><rect x="355.33" y="461.7" width="2.0" height="6.8"/><rect x="357.80" y="461.7" width="2.0" height="6.9"/><rect x="360.27" y="461.7" width="2.0" height="6.9"/><rect x="362.74" y="461.7" width="2.0" height="6.6"/><rect x="365.21" y="461.7" width="2.0" height="6.3"/><rect x="367.68" y="461.7" width="2.0" height="3.0"/><rect x="370.15" y="460.6" width="2.0" height="1.1"/><rect x="372.63" y="457.4" width="2.0" height="4.3"/><rect x="375.10" y="455.8" width="2.0" height="5.9"/><rect x="377.57" y="454.3" width="2.0" height="7.4"/><rect x="380.04" y="452.4" width="2.0" height="9.3"/><rect x="382.51" y="450.3" width="2.0" height="11.4"/><rect x="384.98" y="449.3" width="2.0" height="12.4"/><rect x="387.45" y="448.6" width="2.0" height="13.1"/><rect x="389.93" y="448.3" width="2.0" height="13.4"/><rect x="392.40" y="449.3" width="2.0" height="12.4"/><rect x="394.87" y="450.4" width="2.0" height="11.3"/><rect x="397.34" y="451.8" width="2.0" height="9.9"/><rect x="399.81" y="453.3" width="2.0" height="8.4"/><rect x="402.28" y="454.8" width="2.0" height="6.9"/><rect x="404.75" y="455.7" width="2.0" height="6.0"/><rect x="407.23" y="456.7" width="2.0" height="5.0"/><rect x="409.70" y="457.2" width="2.0" height="4.5"/><rect x="412.17" y="457.4" width="2.0" height="4.3"/><rect x="414.64" y="457.6" width="2.0" height="4.1"/><rect x="417.11" y="458.0" width="2.0" height="3.7"/><rect x="419.58" y="458.5" width="2.0" height="3.2"/><rect x="422.05" y="459.0" width="2.0" height="2.7"/><rect x="424.53" y="459.3" width="2.0" height="2.4"/><rect x="427.00" y="459.6" width="2.0" height="2.1"/><rect x="429.47" y="459.8" width="2.0" height="1.9"/><rect x="431.94" y="459.9" width="2.0" height="1.8"/><rect x="434.41" y="460.0" width="2.0" height="1.7"/><rect x="436.88" y="460.1" width="2.0" height="1.6"/><rect x="439.35" y="460.0" width="2.0" height="1.7"/><rect x="441.83" y="459.9" width="2.0" height="1.8"/><rect x="444.30" y="459.7" width="2.0" height="2.0"/><rect x="446.77" y="459.6" width="2.0" height="2.1"/><rect x="449.24" y="458.5" width="2.0" height="3.2"/><rect x="451.71" y="457.3" width="2.0" height="4.4"/><rect x="454.18" y="456.4" width="2.0" height="5.3"/><rect x="456.65" y="455.9" width="2.0" height="5.8"/><rect x="459.13" y="455.5" width="2.0" height="6.2"/><rect x="461.60" y="455.7" width="2.0" height="6.0"/><rect x="464.07" y="456.2" width="2.0" height="5.5"/><rect x="466.54" y="456.4" width="2.0" height="5.3"/><rect x="469.01" y="455.9" width="2.0" height="5.8"/><rect x="471.48" y="455.5" width="2.0" height="6.2"/><rect x="473.95" y="455.2" width="2.0" height="6.5"/><rect x="476.43" y="454.9" width="2.0" height="6.8"/><rect x="478.90" y="454.6" width="2.0" height="7.1"/><rect x="481.37" y="453.8" width="2.0" height="7.9"/><rect x="483.84" y="452.9" width="2.0" height="8.8"/><rect x="486.31" y="451.7" width="2.0" height="10.0"/><rect x="488.78" y="450.7" width="2.0" height="11.0"/><rect x="491.25" y="450.8" width="2.0" height="10.9"/><rect x="493.73" y="451.0" width="2.0" height="10.7"/><rect x="496.20" y="451.1" width="2.0" height="10.6"/><rect x="498.67" y="451.3" width="2.0" height="10.4"/><rect x="501.14" y="451.5" width="2.0" height="10.2"/><rect x="503.61" y="451.3" width="2.0" height="10.4"/><rect x="506.08" y="451.1" width="2.0" height="10.6"/><rect x="508.55" y="450.8" width="2.0" height="10.9"/><rect x="511.02" y="450.8" width="2.0" height="10.9"/><rect x="513.50" y="451.3" width="2.0" height="10.4"/><rect x="515.97" y="451.7" width="2.0" height="10.0"/><rect x="518.44" y="452.2" width="2.0" height="9.5"/><rect x="520.91" y="452.6" width="2.0" height="9.1"/><rect x="523.38" y="453.2" width="2.0" height="8.5"/><rect x="525.85" y="453.9" width="2.0" height="7.8"/><rect x="528.32" y="454.7" width="2.0" height="7.0"/><rect x="530.80" y="455.2" width="2.0" height="6.5"/><rect x="533.27" y="455.6" width="2.0" height="6.1"/><rect x="535.74" y="455.9" width="2.0" height="5.8"/><rect x="538.21" y="456.0" width="2.0" height="5.7"/><rect x="540.68" y="456.1" width="2.0" height="5.6"/><rect x="543.15" y="456.2" width="2.0" height="5.5"/><rect x="545.62" y="456.2" width="2.0" height="5.5"/><rect x="548.10" y="456.3" width="2.0" height="5.4"/><rect x="550.57" y="456.4" width="2.0" height="5.3"/><rect x="553.04" y="456.5" width="2.0" height="5.2"/><rect x="555.51" y="456.6" width="2.0" height="5.1"/><rect x="557.98" y="456.7" width="2.0" height="5.0"/><rect x="560.45" y="456.8" width="2.0" height="4.9"/><rect x="562.92" y="457.0" width="2.0" height="4.7"/><rect x="565.40" y="457.2" width="2.0" height="4.5"/><rect x="567.87" y="457.4" width="2.0" height="4.3"/><rect x="570.34" y="457.6" width="2.0" height="4.1"/><rect x="572.81" y="457.8" width="2.0" height="3.9"/><rect x="575.28" y="458.0" width="2.0" height="3.7"/><rect x="577.75" y="458.3" width="2.0" height="3.4"/><rect x="580.22" y="458.6" width="2.0" height="3.1"/><rect x="582.70" y="458.6" width="2.0" height="3.1"/><rect x="585.17" y="458.1" width="2.0" height="3.6"/><rect x="587.64" y="457.6" width="2.0" height="4.1"/><rect x="590.11" y="456.0" width="2.0" height="5.7"/><rect x="592.58" y="454.6" width="2.0" height="7.1"/><rect x="595.05" y="454.0" width="2.0" height="7.7"/><rect x="597.52" y="453.5" width="2.0" height="8.2"/><rect x="600.00" y="453.2" width="2.0" height="8.5"/><rect x="602.47" y="453.0" width="2.0" height="8.7"/><rect x="604.94" y="453.3" width="2.0" height="8.4"/><rect x="607.41" y="453.5" width="2.0" height="8.2"/><rect x="609.88" y="453.8" width="2.0" height="7.9"/><rect x="612.35" y="453.9" width="2.0" height="7.8"/><rect x="614.82" y="454.0" width="2.0" height="7.7"/><rect x="617.30" y="454.1" width="2.0" height="7.6"/><rect x="619.77" y="454.2" width="2.0" height="7.5"/><rect x="622.24" y="454.9" width="2.0" height="6.8"/><rect x="624.71" y="455.6" width="2.0" height="6.1"/><rect x="627.18" y="456.3" width="2.0" height="5.4"/><rect x="629.65" y="457.0" width="2.0" height="4.7"/><rect x="632.12" y="457.8" width="2.0" height="3.9"/><rect x="634.59" y="457.8" width="2.0" height="3.9"/><rect x="637.07" y="457.9" width="2.0" height="3.8"/><rect x="639.54" y="457.9" width="2.0" height="3.8"/><rect x="642.01" y="457.5" width="2.0" height="4.2"/><rect x="644.48" y="457.1" width="2.0" height="4.6"/><rect x="646.95" y="456.8" width="2.0" height="4.9"/><rect x="649.42" y="456.5" width="2.0" height="5.2"/><rect x="651.89" y="456.3" width="2.0" height="5.4"/><rect x="654.37" y="456.6" width="2.0" height="5.1"/><rect x="656.84" y="456.9" width="2.0" height="4.8"/><rect x="659.31" y="457.4" width="2.0" height="4.3"/><rect x="661.78" y="458.0" width="2.0" height="3.7"/><rect x="664.25" y="458.6" width="2.0" height="3.1"/><rect x="666.72" y="459.5" width="2.0" height="2.2"/><rect x="669.19" y="460.5" width="2.0" height="1.2"/><rect x="671.67" y="461.1" width="2.0" height="0.8"/><rect x="674.14" y="461.6" width="2.0" height="0.8"/><rect x="676.61" y="461.7" width="2.0" height="0.8"/><rect x="679.08" y="461.7" width="2.0" height="0.8"/><rect x="681.55" y="461.7" width="2.0" height="0.8"/><rect x="684.02" y="461.7" width="2.0" height="0.8"/><rect x="686.49" y="461.7" width="2.0" height="0.8"/><rect x="688.97" y="461.7" width="2.0" height="0.8"/><rect x="691.44" y="461.7" width="2.0" height="0.8"/><rect x="693.91" y="461.5" width="2.0" height="0.8"/><rect x="696.38" y="460.3" width="2.0" height="1.4"/><rect x="698.85" y="459.1" width="2.0" height="2.6"/><rect x="701.32" y="457.8" width="2.0" height="3.9"/><rect x="703.79" y="456.9" width="2.0" height="4.8"/><rect x="706.27" y="456.6" width="2.0" height="5.1"/><rect x="708.74" y="456.3" width="2.0" height="5.4"/><rect x="711.21" y="456.3" width="2.0" height="5.4"/><rect x="713.68" y="456.4" width="2.0" height="5.3"/><rect x="716.15" y="456.8" width="2.0" height="4.9"/><rect x="718.62" y="458.1" width="2.0" height="3.6"/><rect x="721.09" y="459.3" width="2.0" height="2.4"/><rect x="723.57" y="460.0" width="2.0" height="1.7"/><rect x="726.04" y="460.8" width="2.0" height="0.9"/><rect x="728.51" y="461.4" width="2.0" height="0.8"/><rect x="730.98" y="461.7" width="2.0" height="0.8"/><rect x="733.45" y="461.7" width="2.0" height="0.9"/><rect x="735.92" y="461.7" width="2.0" height="1.8"/><rect x="738.39" y="461.7" width="2.0" height="2.9"/><rect x="740.87" y="461.7" width="2.0" height="4.4"/><rect x="743.34" y="461.7" width="2.0" height="5.9"/><rect x="745.81" y="461.7" width="2.0" height="7.2"/><rect x="748.28" y="461.7" width="2.0" height="9.4"/><rect x="750.75" y="461.7" width="2.0" height="12.0"/></g>
<polyline points="0.0,460.1 9.4,462.4 20.3,467.9 31.2,473.4 39.0,474.6 43.8,473.7 53.0,469.5 62.5,462.8 70.3,458.0 78.0,456.2 86.0,458.5 97.0,462.8 109.4,464.0 121.9,462.4 128.0,463.2 140.6,470.2 150.0,475.7 156.2,478.8 160.0,480.2 167.8,479.3 175.6,476.2 183.4,473.0 191.2,470.2 199.0,468.4 206.9,467.4 214.7,466.8 222.5,464.0 230.3,461.2 238.0,459.0 246.0,457.4 253.8,456.2 261.6,456.7 269.4,458.0 277.2,460.1 285.0,460.9 292.8,461.3 308.4,461.3 320.0,460.9 329.4,460.1 338.8,460.9 348.0,463.2 357.5,465.9 366.9,467.9 373.0,465.6 382.5,459.3 390.3,453.8 398.0,450.2 404.4,451.2 413.8,454.6 423.0,457.8 432.5,459.0 441.9,460.1 451.2,459.0 460.6,457.8 470.0,456.5 480.0,455.9 489.4,454.3 498.8,452.3 511.2,450.7 523.8,451.5 533.0,453.4 542.5,455.4 558.0,456.2 573.8,457.4 589.4,458.0 598.8,455.4 608.0,454.2 620.6,454.2 630.0,454.9 640.0,457.2 652.5,457.4 665.0,458.0 677.5,460.6 690.0,462.8 699.4,461.7 708.8,459.3 718.0,457.4 727.5,458.5 736.9,460.9 744.7,463.2 751.0,465.9" fill="none" stroke="#b41c1c" stroke-width="1"/>
<polyline points="0.0,506.2 4.7,507.0 9.4,509.3 18.8,512.4 23.4,509.3 31.2,507.4 37.5,507.8 42.2,501.2 46.9,502.3 54.7,499.2 59.4,500.2 66.4,497.6 71.9,504.3 78.0,505.4 81.2,503.4 87.5,505.4 93.8,504.6 100.0,503.0 106.2,503.0 113.3,501.5 120.3,505.4 125.0,506.2 129.7,510.9 137.5,510.6 145.3,512.4 153.0,511.7 156.2,508.5 160.0,507.2 167.8,506.2 172.5,505.9 178.0,508.5 183.4,499.2 188.1,505.9 192.8,503.8 199.0,506.2 205.3,504.6 210.0,503.4 217.8,500.2 224.8,503.4 231.9,500.7 238.0,500.2 244.4,501.5 250.6,502.3 256.9,501.2 261.6,503.0 271.0,506.2 275.6,503.0 280.3,501.5 285.0,503.4 291.2,504.3 297.5,502.3 302.2,504.3 310.0,501.2 314.7,503.0 320.0,501.5 326.2,503.0 331.7,502.3 337.2,505.9 344.2,508.5 348.9,507.0 352.0,508.5 357.5,506.5 363.8,507.4 366.9,499.2 373.0,496.0 376.2,498.0 382.5,496.0 388.8,498.0 395.0,500.0 398.0,504.3 404.4,503.0 408.3,503.8 413.8,502.3 418.4,501.5 425.5,505.4 431.0,501.5 435.6,501.5 440.3,504.6 445.0,502.3 454.4,499.2 459.0,499.2 465.3,503.0 474.0,498.0 477.0,500.7 480.0,499.5 487.0,496.8 492.5,499.2 498.8,498.0 503.4,500.2 508.0,497.6 512.8,497.6 518.3,501.2 524.5,501.5 530.0,502.3 537.8,501.5 542.5,498.7 548.0,498.0 551.9,500.2 559.7,501.5 564.4,499.2 567.5,501.2 573.8,499.2 576.9,501.8 583.0,503.4 591.7,496.0 597.2,498.0 605.0,499.6 611.2,499.2 617.5,497.1 620.6,502.3 626.9,500.7 630.8,503.4 636.2,502.3 640.0,501.0 644.7,500.7 648.6,499.2 655.6,500.7 661.9,503.8 668.0,505.4 672.8,505.4 676.0,503.4 680.6,504.3 685.3,503.0 690.0,504.6 695.5,498.7 702.5,496.5 707.2,501.2 711.9,499.2 719.7,505.4 724.4,505.9 729.0,506.5 733.8,502.3 740.0,509.3 743.0,507.8 749.4,510.1 751.7,510.6" fill="none" stroke="#2a6ecc" stroke-width="1"/>
<!-- dashed levels -->
<line x1="0" y1="497.5" x2="984" y2="497.5" stroke="#9498a0" stroke-width="1" stroke-dasharray="1.85 1.85"/>
<line x1="0" y1="509.5" x2="984" y2="509.5" stroke="#9498a0" stroke-width="1" stroke-dasharray="1.85 1.85"/>
<!-- axis -->
<rect x="984" y="0" width="1.2" height="520" fill="#9aa0ac"/>
<g fill="#9aa0ac">
<rect x="985" y="9" width="2" height="1"/>
<rect x="985" y="39.5" width="2" height="1"/>
<rect x="985" y="69.7" width="2" height="1"/>
<rect x="985" y="100" width="2" height="1"/>
<rect x="985" y="130.3" width="2" height="1"/>
<rect x="985" y="160.5" width="2" height="1"/>
<rect x="985" y="220.9" width="2" height="1"/>
<rect x="985" y="251.2" width="2" height="1"/>
<rect x="985" y="281.4" width="2" height="1"/>
<rect x="985" y="311.6" width="2" height="1"/>
<rect x="985" y="341.8" width="2" height="1"/>
<rect x="985" y="372" width="2" height="1"/>
<rect x="985" y="402.3" width="2" height="1"/>
<rect x="985" y="432.5" width="2" height="1"/>
<rect x="985" y="451.5" width="2" height="1"/>
<rect x="985" y="461.7" width="2" height="1"/>
</g>
<g font-size="8.6" fill="#d4d6da" transform="matrix(0.913,0,0,1,86.06,0)">
<text x="989" y="12.6">138.375</text>
<text x="989" y="42.8">137.580</text>
<text x="989" y="73">136.785</text>
<text x="989" y="103.3">135.990</text>
<text x="989" y="133.5">135.195</text>
<text x="989" y="163.7">134.400</text>
<text x="989" y="224.1">132.810</text>
<text x="989" y="254.4">132.000</text>
<text x="989" y="284.6">131.205</text>
<text x="989" y="314.8">130.410</text>
<text x="989" y="345">129.615</text>
<text x="989" y="375.3">128.820</text>
<text x="989" y="405.5">128.025</text>
<text x="989" y="435.7">127.230</text>
<text x="987" y="455">0.91</text>
<text x="987" y="465.3">0.00</text>
<text x="987" y="483.8">-1.3797</text>
<text x="987" y="495.3">100</text>
<text x="987" y="501">70</text>
<text x="987" y="513">30</text>
<text x="987" y="518.3">0</text>
</g>
<rect x="985.6" y="185.1" width="34.6" height="8.7" fill="#ffffff"/>
<text x="989" y="192.4" font-size="8.6" fill="#091f3a" transform="matrix(0.913,0,0,1,86.06,0)">133.626</text>
</svg>
</body></html>
